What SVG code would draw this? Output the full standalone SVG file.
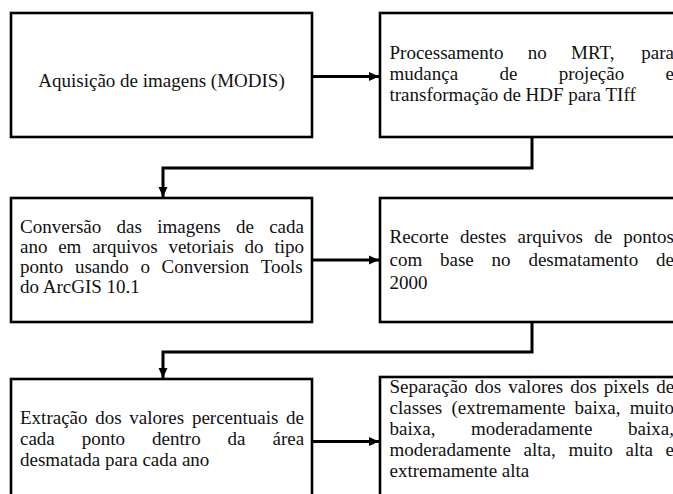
<svg xmlns="http://www.w3.org/2000/svg" width="673" height="494" viewBox="0 0 673 494">
<defs>
<style>
.box{fill:#fff;stroke:#000;stroke-width:2.6}
.t{font-family:"Liberation Serif","Times New Roman",serif;font-size:19px;fill:#111}
.c{fill:none;stroke:#000;stroke-width:3}
</style>
<marker id="ah" markerUnits="userSpaceOnUse" markerWidth="10" markerHeight="10" viewBox="0 0 10 10" refX="10" refY="5" orient="auto">
<path d="M0,0.5 L10,5 L0,9.5 Z" fill="#000"/>
</marker>
</defs>
<rect width="673" height="494" fill="#fff"/>
<g id="connectors">
<path class="c" d="M312 76.5 H379" marker-end="url(#ah)"/>
<path class="c" d="M532 137 V168 H163 V197" marker-end="url(#ah)"/>
<path class="c" d="M312 260 H379" marker-end="url(#ah)"/>
<path class="c" d="M532 322 V352 H163 V378" marker-end="url(#ah)"/>
<path class="c" d="M312 441.5 H379" marker-end="url(#ah)"/>
</g>
<g id="n1">
<rect class="box" x="11" y="13" width="301" height="124"/>
<text class="t" x="161.5" y="87" text-anchor="middle">Aquisição de imagens (MODIS)</text>
</g>
<g id="n2">
<rect class="box" x="380" y="13" width="301" height="124"/>
<text class="t" y="59"><tspan x="389.5">Processamento</tspan><tspan x="527.8">no</tspan><tspan x="571.1">MRT,</tspan><tspan x="641.3">para</tspan></text>
<text class="t" y="80"><tspan x="389.5">mudança</tspan><tspan x="499.5">de</tspan><tspan x="558.8">projeção</tspan><tspan x="665.6">e</tspan></text>
<text class="t" x="389.5" y="101">transformação de HDF para TIff</text>
</g>
<g id="n3">
<rect class="box" x="11" y="198" width="301" height="124"/>
<text class="t" y="233"><tspan x="20">Conversão</tspan><tspan x="116.6">das</tspan><tspan x="157.3">imagens</tspan><tspan x="236">de</tspan><tspan x="269.2">cada</tspan></text>
<text class="t" y="253"><tspan x="20">ano</tspan><tspan x="58.2">em</tspan><tspan x="92.2">arquivos</tspan><tspan x="168.4">vetoriais</tspan><tspan x="244.6">do</tspan><tspan x="274.4">tipo</tspan></text>
<text class="t" y="273"><tspan x="20">ponto</tspan><tspan x="74.9">usando</tspan><tspan x="140.4">o</tspan><tspan x="161.5">Conversion</tspan><tspan x="260.7">Tools</tspan></text>
<text class="t" x="20" y="293">do ArcGIS 10.1</text>
</g>
<g id="n4">
<rect class="box" x="380" y="198" width="301" height="124"/>
<text class="t" y="243"><tspan x="389.5">Recorte</tspan><tspan x="459.9">destes</tspan><tspan x="517.5">arquivos</tspan><tspan x="594.2">de</tspan><tspan x="623.3">pontos</tspan></text>
<text class="t" y="266"><tspan x="389.5">com</tspan><tspan x="440">base</tspan><tspan x="491.6">no</tspan><tspan x="528.4">desmatamento</tspan><tspan x="656">de</tspan></text>
<text class="t" x="389.5" y="289">2000</text>
</g>
<g id="n5">
<rect class="box" x="11" y="379" width="301" height="124"/>
<text class="t" y="424"><tspan x="20">Extração</tspan><tspan x="95.2">dos</tspan><tspan x="129.3">valores</tspan><tspan x="191.9">percentuais</tspan><tspan x="286.1">de</tspan></text>
<text class="t" y="445"><tspan x="20">cada</tspan><tspan x="81.8">ponto</tspan><tspan x="152.1">dentro</tspan><tspan x="227.6">da</tspan><tspan x="272.5">área</tspan></text>
<text class="t" x="20" y="466">desmatada para cada ano</text>
</g>
<g id="n6">
<rect class="box" x="380" y="377" width="301" height="124"/>
<text class="t" y="393"><tspan x="389.5">Separação</tspan><tspan x="474.7">dos</tspan><tspan x="508.2">valores</tspan><tspan x="570.2">dos</tspan><tspan x="603.7">pixels</tspan><tspan x="656.2">de</tspan></text>
<text class="t" y="414"><tspan x="389.5">classes</tspan><tspan x="451.5">(extremamente</tspan><tspan x="574.6">baixa,</tspan><tspan x="629.7">muito</tspan></text>
<text class="t" y="435"><tspan x="389.5">baixa,</tspan><tspan x="471">moderadamente</tspan><tspan x="628.1">baixa,</tspan></text>
<text class="t" y="456"><tspan x="389.5">moderadamente</tspan><tspan x="523.6">alta,</tspan><tspan x="568.5">muito</tspan><tspan x="625.5">alta</tspan><tspan x="665.6">e</tspan></text>
<text class="t" x="389.5" y="477">extremamente alta</text>
</g>
</svg>
